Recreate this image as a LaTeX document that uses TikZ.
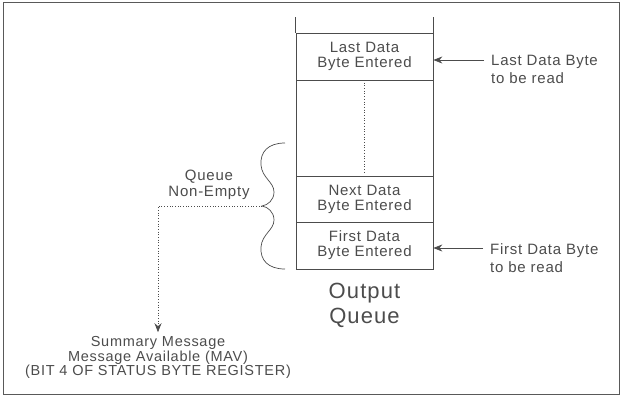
\documentclass[tikz,border=0pt]{standalone}
\usepackage{fontspec}
\newfontfamily\hpfont{Liberation Sans}[LetterSpace=5]
\usetikzlibrary{arrows.meta}

\begin{document}
\begin{tikzpicture}[x=1pt,y=-1pt]
\tikzstyle{every node}=[font=\hpfont\fontsize{15}{15}\selectfont, text=black!70, align=center, inner sep=0pt];
\tikzstyle{cell}=[draw=black!70, line width=0.7pt, minimum width=137pt];
\tikzstyle{wire}=[draw=black!70, line width=0.7pt];
\tikzstyle{readarrow}=[wire, -{Stealth[length=9pt,width=7pt]}];
\useasboundingbox (0,0) rectangle (622,397);
\draw[black!65, line width=1pt] (3,2.5) rectangle (619,394.5);
   % the queue cells
   \node[cell, minimum height=47pt] (last) at (364.5,56.5) {Last Data\\Byte Entered};
   \node[cell, minimum height=96pt] (gap) at (364.5,128) {};
   \node[cell, minimum height=46pt] (next) at (364.5,199) {Next Data\\Byte Entered};
   \node[cell, minimum height=47pt] (first) at (364.5,245.5) {First Data\\Byte Entered};
   \draw[wire] (last.north west) -- +(0,-16);
   \draw[wire] (last.north east) -- +(0,-16);
   \draw[wire, dotted] ([yshift=-3pt]gap.north) -- ([yshift=3pt]gap.south);
   \node[font=\hpfont\fontsize{22}{25}\selectfont] (outq) at (364.5,305.5) {Output\\Queue};
   % read pointers
   \node[anchor=west, align=left] (lastread) at (491,69) {Last Data Byte\\[3pt]to be read};
   \node[anchor=west, align=left] (firstread) at (490,258) {First Data Byte\\[3pt]to be read};
  \foreach \from/\to/\dy in {lastread/last/9pt,firstread/first/10pt}
    \draw[readarrow] ([xshift=-7pt,yshift=\dy]\from.west) -- ([yshift=\dy]\from.west -| \to.east);
   % queue non-empty brace
   \draw[wire] (285,143) .. controls (268,143) and (260,152) .. (261,165)
      .. controls (262,178) and (274,182) .. (274,192)
      .. controls (274,200) and (268,205) .. (262,206)
      .. controls (268,207) and (274,212) .. (274,220)
      .. controls (274,230) and (262,234) .. (261,247)
      .. controls (260,260) and (268,269) .. (285,269);
   \coordinate (tip) at (262,206);
   \node (nonempty) at (209,185) {Queue\\[1pt]Non-Empty};
   \node[font=\hpfont\fontsize{14.5}{14.5}\selectfont] (mav) at (158,357.5) {Summary Message\\Message Available (MAV)\\(BIT 4 OF STATUS BYTE REGISTER)};
   \draw[readarrow, dotted] (tip) -| ([yshift=4pt]mav.north);
\end{tikzpicture}
\end{document}
